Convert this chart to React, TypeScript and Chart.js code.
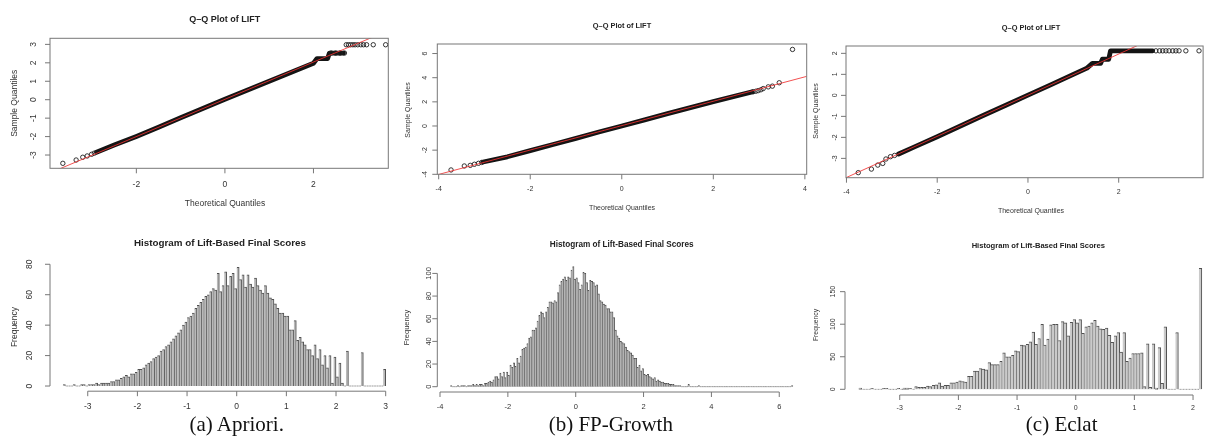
import React, { useEffect, useRef } from "react";
import { Chart, registerables } from "chart.js";
Chart.register(...registerables);

const W = 1208;
const H = 442;

// ---------------- Q-Q plot data ----------------
// (a) Apriori
const qqAxTicks = [-2, 0, 2];
const qqAyTicks = [-3, -2, -1, 0, 1, 2, 3];
const qqABandTheo = [-2.9, -2.5, -2.0, -1.5, -1.0, -0.5, 0, 0.5, 1.0, 1.5, 2.0, 2.08, 2.32, 2.36, 2.68];
const qqABandSample = [-2.85, -2.46, -1.99, -1.49, -0.98, -0.48, 0.02, 0.51, 1.0, 1.49, 1.98, 2.23, 2.23, 2.53, 2.53];
const qqAPointTheo = [-3.66, -3.36, -3.21, -3.11, -3.01, -2.95, 2.4, 2.5, 2.6, 2.7, 2.74, 2.79, 2.84, 2.89, 2.94, 3.0, 3.07, 3.13, 3.2, 3.35, 3.63];
const qqAPointSample = [-3.45, -3.27, -3.12, -3.05, -2.96, -2.9, 2.53, 2.53, 2.53, 2.53, 2.98, 2.98, 2.98, 2.98, 2.98, 2.98, 2.98, 2.98, 2.98, 2.98, 2.98];
const qqALineTheo = [-3.95, 3.69];
const qqALineSample = [-3.97, 3.75];

// (b) FP-Growth
const qqBxTicks = [-4, -2, 0, 2, 4];
const qqByTicks = [-4, -2, 0, 2, 4, 6];
const qqBBandTheo = [-3.03, -2.5, -2.0, -1.5, -1.0, -0.5, 0, 0.5, 1.0, 1.5, 2.0, 2.5, 2.85];
const qqBBandSample = [-2.98, -2.55, -2.04, -1.53, -1.02, -0.5, 0.0, 0.51, 1.02, 1.52, 2.02, 2.5, 2.82];
const qqBPointTheo = [-3.73, -3.44, -3.31, -3.22, -3.13, -3.06, 2.87, 2.93, 2.98, 3.04, 3.09, 3.2, 3.29, 3.44, 3.73];
const qqBPointSample = [-3.64, -3.31, -3.26, -3.17, -3.09, -3.02, 2.84, 2.88, 2.93, 3.0, 3.1, 3.24, 3.3, 3.58, 6.34];
const qqBLineTheo = [-4.03, 4.04];
const qqBLineSample = [-4.04, 4.11];

// (c) Eclat
const qqCxTicks = [-4, -2, 0, 2];
const qqCyTicks = [-3, -2, -1, 0, 1, 2];
const qqCBandTheo = [-2.85, -2.5, -2.0, -1.5, -1.0, -0.5, 0, 0.5, 1.0, 1.3, 1.42, 1.6, 1.64, 1.78, 1.82, 2.75];
const qqCBandSample = [-2.79, -2.45, -1.97, -1.47, -0.97, -0.48, 0.01, 0.5, 1.0, 1.3, 1.52, 1.52, 1.72, 1.72, 2.12, 2.12];
const qqCPointTheo = [-3.74, -3.45, -3.31, -3.2, -3.13, -3.03, -2.94, 2.82, 2.9, 2.97, 3.04, 3.11, 3.19, 3.26, 3.33, 3.48, 3.77];
const qqCPointSample = [-3.68, -3.51, -3.32, -3.24, -3.03, -2.92, -2.86, 2.12, 2.12, 2.12, 2.12, 2.12, 2.12, 2.12, 2.12, 2.12, 2.12];
const qqCLineTheo = [-4.01, 3.86];
const qqCLineSample = [-3.92, 3.79];

// ---------------- Histogram data ----------------
const histBinWidth = 0.05;

const histAStart = -3.5;
const histAxTicks = [-3, -2, -1, 0, 1, 2, 3];
const histAyTicks = [0, 20, 40, 60, 80];
const histACounts = [
  1, 0, 0, 0, 1, 0, 0, 1, 1, 0,
  1, 1, 1, 2, 1, 2, 2, 2, 2, 3,
  3, 4, 4, 5, 6, 7, 6, 8, 8, 9,
  11, 11, 12, 14, 15, 16, 18, 19, 20, 23,
  24, 26, 27, 29, 31, 33, 35, 37, 40, 42,
  45, 46, 48, 51, 53, 55, 57, 59, 60, 62,
  64, 63, 74, 62, 66, 75, 66, 72, 74, 64,
  78, 70, 73, 65, 73, 67, 65, 71, 66, 63,
  61, 66, 61, 58, 57, 54, 51, 48, 48, 46,
  46, 37, 37, 43, 30, 32, 29, 27, 24, 24,
  20, 27, 18, 24, 14, 20, 12, 20, 2, 19,
  6, 15, 2, 0, 23, 0, 0, 0, 0, 0,
  22, 0, 0, 0, 0, 0, 0, 0, 0, 11,
];

const histBStart = -3.7;
const histBxTicks = [-4, -2, 0, 2, 4, 6];
const histByTicks = [0, 20, 40, 60, 80, 100];
const histBCounts = [
  1, 0, 0, 0, 1, 0, 1, 1, 1, 0,
  1, 1, 1, 2, 1, 2, 1, 2, 2, 1,
  3, 3, 4, 5, 4, 6, 9, 9, 7, 12,
  9, 13, 8, 13, 10, 19, 17, 21, 18, 25,
  21, 27, 33, 34, 35, 38, 43, 44, 50, 50,
  52, 58, 63, 66, 65, 61, 66, 70, 75, 75,
  74, 76, 75, 83, 90, 93, 95, 97, 94, 97,
  96, 103, 106, 95, 96, 92, 86, 90, 101, 100,
  92, 85, 94, 93, 92, 89, 90, 82, 76, 75,
  73, 72, 69, 69, 66, 66, 61, 50, 45, 43,
  40, 39, 38, 35, 32, 31, 30, 28, 25, 25,
  17, 19, 14, 16, 11, 10, 11, 9, 8, 7,
  8, 5, 6, 5, 4, 4, 3, 3, 3, 2,
  2, 2, 1, 1, 1, 1, 0, 0, 0, 0,
  2, 0, 0, 0, 0, 0, 1, 0, 0, 0,
  0, 0, 0, 0, 0, 0, 0, 0, 0, 0,
  0, 0, 0, 0, 0, 0, 0, 0, 0, 0,
  0, 0, 0, 0, 0, 0, 0, 0, 0, 0,
  0, 0, 0, 0, 0, 0, 0, 0, 0, 0,
  0, 0, 0, 0, 0, 0, 0, 0, 0, 0,
  0, 1,
];

const histCStart = -3.7;
const histCxTicks = [-3, -2, -1, 0, 1, 2];
const histCyTicks = [0, 50, 100, 150];
const histCCounts = [
  2, 0, 0, 0, 1, 0, 0, 0, 1, 1,
  0, 0, 0, 1, 0, 2, 2, 1, 0, 4,
  3, 3, 3, 5, 4, 6, 7, 10, 5, 6,
  6, 10, 10, 11, 13, 12, 11, 20, 20, 28,
  28, 32, 31, 30, 41, 38, 38, 38, 43, 56,
  50, 50, 52, 59, 58, 68, 67, 69, 73, 88,
  69, 78, 100, 68, 77, 99, 100, 100, 75, 104,
  102, 82, 103, 107, 102, 107, 86, 96, 97, 102,
  106, 97, 93, 92, 94, 83, 72, 82, 87, 57,
  87, 43, 48, 55, 55, 55, 56, 4, 70, 3,
  70, 2, 64, 9, 96, 0, 0, 0, 87, 0,
  0, 0, 0, 0, 0, 0, 186,
];

const captions = ["(a) Apriori.", "(b) FP-Growth", "(c) Eclat"];
const qqTitle = "Q\u2013Q Plot of LIFT";
const qqXLabel = "Theoretical Quantiles";
const qqYLabel = "Sample Quantiles";
const histTitle = "Histogram of Lift-Based Final Scores";
const histYLabel = "Frequency";

// ---------------- styling / layout ----------------
const FONT = '"Liberation Sans", Arial, Helvetica, sans-serif';
const LINE_COLOR = "#777";
const TEXT_COLOR = "#333";
const TITLE_COLOR = "#222";

const rDecor = {
  id: "rDecor",
  afterDraw(chart: any, _args: any, o: any) {
    const { ctx, chartArea: a, scales } = chart;
    const xs = scales.x;
    const ys = scales.y;
    ctx.save();
    ctx.strokeStyle = LINE_COLOR;
    ctx.lineWidth = 1;
    if (o.box) ctx.strokeRect(a.left, a.top, a.right - a.left, a.bottom - a.top);
    const xp = o.xTicks.map((v: number) => xs.getPixelForValue(v));
    const yp = o.yTicks.map((v: number) => ys.getPixelForValue(v));
    ctx.beginPath();
    if (!o.box) {
      ctx.moveTo(xp[0], a.bottom);
      ctx.lineTo(xp[xp.length - 1], a.bottom);
      ctx.moveTo(a.left, yp[0]);
      ctx.lineTo(a.left, yp[yp.length - 1]);
    }
    xp.forEach((p: number) => {
      ctx.moveTo(p, a.bottom);
      ctx.lineTo(p, a.bottom + o.tickLen);
    });
    yp.forEach((p: number) => {
      ctx.moveTo(a.left, p);
      ctx.lineTo(a.left - o.tickLen, p);
    });
    ctx.stroke();

    ctx.fillStyle = TEXT_COLOR;
    ctx.textAlign = "center";
    ctx.textBaseline = "middle";
    ctx.font = `${o.tickSize}px ${FONT}`;
    o.xTicks.forEach((v: number, i: number) => ctx.fillText(String(v), xp[i], o.xLabelY));
    o.yTicks.forEach((v: number, i: number) => {
      ctx.save();
      ctx.translate(o.yLabelX, yp[i]);
      ctx.rotate(-Math.PI / 2);
      ctx.fillText(String(v), 0, 0);
      ctx.restore();
    });
    ctx.font = `${o.labelSize}px ${FONT}`;
    if (o.xTitle) ctx.fillText(o.xTitle, o.xTitleX, o.xTitleY);
    if (o.yTitle) {
      ctx.save();
      ctx.translate(o.yTitleX, o.yTitleY);
      ctx.rotate(-Math.PI / 2);
      ctx.fillText(o.yTitle, 0, 0);
      ctx.restore();
    }
    ctx.fillStyle = TITLE_COLOR;
    ctx.font = `bold ${o.titleSize}px ${FONT}`;
    ctx.fillText(o.title, o.titleX, o.titleY);
    ctx.restore();
  },
};

type Area = { l: number; t: number; r: number; b: number };

const pad = (a: Area) => ({ left: a.l, top: a.t, right: W - a.r, bottom: H - a.b });
const zip = (xs: number[], ys: number[]) => xs.map((x, i) => ({ x, y: ys[i] }));

function qqConfig(p: any) {
  return {
    type: "scatter",
    data: {
      datasets: [
        {
          data: zip(p.lineTheo, p.lineSample),
          showLine: true,
          borderColor: "rgba(240,50,50,0.85)",
          borderWidth: 1,
          pointRadius: 0,
          clip: 0,
        },
        {
          data: zip(p.ptTheo, p.ptSample),
          showLine: false,
          pointRadius: 2.2,
          pointBorderWidth: 0.9,
          pointBackgroundColor: "rgba(0,0,0,0)",
          pointBorderColor: "#1e1e1e",
          clip: 0,
        },
        {
          data: zip(p.bandTheo, p.bandSample),
          showLine: true,
          borderColor: "#141414",
          borderWidth: 4.8,
          borderCapStyle: "round",
          borderJoinStyle: "round",
          pointRadius: 0,
          clip: 0,
        },
      ],
    },
    options: {
      responsive: false,
      animation: false,
      events: [],
      layout: { padding: pad(p.area) },
      scales: {
        x: { type: "linear", display: false, min: p.xMin, max: p.xMax },
        y: { type: "linear", display: false, min: p.yMin, max: p.yMax },
      },
      plugins: {
        legend: { display: false },
        tooltip: { enabled: false },
        rDecor: { box: true, tickLen: 5, title: qqTitle, xTitle: qqXLabel, yTitle: qqYLabel, ...p.deco },
      },
    },
    plugins: [rDecor],
  };
}

function histConfig(p: any) {
  return {
    type: "bar",
    data: {
      datasets: [
        {
          data: p.counts.map((c: number, i: number) => ({ x: p.start + histBinWidth * (i + 0.5), y: c })),
          backgroundColor: p.fill,
          borderColor: p.border,
          borderWidth: { top: 1, right: 1, bottom: 0, left: 0 },
          barPercentage: 1,
          categoryPercentage: 1,
          minBarLength: 1,
          clip: 0,
        },
      ],
    },
    options: {
      responsive: false,
      animation: false,
      events: [],
      layout: { padding: pad(p.area) },
      scales: {
        x: { type: "linear", display: false, min: p.xMin, max: p.xMax, offset: false },
        y: { type: "linear", display: false, min: p.yMin, max: p.yMax },
      },
      plugins: {
        legend: { display: false },
        tooltip: { enabled: false },
        rDecor: { box: false, tickLen: 5, title: histTitle, yTitle: histYLabel, ...p.deco },
      },
    },
    plugins: [rDecor],
  };
}

const makers = [
  () =>
    qqConfig({
      area: { l: 50, t: 38.3, r: 388.3, b: 168.3 },
      xMin: -3.95, xMax: 3.69, yMin: -3.72, yMax: 3.33,
      bandTheo: qqABandTheo, bandSample: qqABandSample,
      ptTheo: qqAPointTheo, ptSample: qqAPointSample,
      lineTheo: qqALineTheo, lineSample: qqALineSample,
      deco: {
        xTicks: qqAxTicks, yTicks: qqAyTicks,
        titleX: 224.7, titleY: 19.3, titleSize: 9,
        xLabelY: 185, yLabelX: 34, tickSize: 8.5, labelSize: 8.5,
        xTitleX: 225, xTitleY: 204, yTitleX: 15, yTitleY: 103.3,
      },
    }),
  () =>
    qqConfig({
      area: { l: 437.3, t: 44, r: 806.7, b: 174.3 },
      xMin: -4.03, xMax: 4.04, yMin: -4.0, yMax: 6.79,
      bandTheo: qqBBandTheo, bandSample: qqBBandSample,
      ptTheo: qqBPointTheo, ptSample: qqBPointSample,
      lineTheo: qqBLineTheo, lineSample: qqBLineSample,
      deco: {
        xTicks: qqBxTicks, yTicks: qqByTicks,
        titleX: 622, titleY: 26, titleSize: 7.4,
        xLabelY: 189.3, yLabelX: 425, tickSize: 7, labelSize: 7,
        xTitleX: 622, xTitleY: 208.3, yTitleX: 408.3, yTitleY: 110,
      },
    }),
  () =>
    qqConfig({
      area: { l: 846, t: 46, r: 1206.5, b: 177.7 },
      xMin: -4.01, xMax: 3.86, yMin: -3.92, yMax: 2.35,
      bandTheo: qqCBandTheo, bandSample: qqCBandSample,
      ptTheo: qqCPointTheo, ptSample: qqCPointSample,
      lineTheo: qqCLineTheo, lineSample: qqCLineSample,
      deco: {
        xTicks: qqCxTicks, yTicks: qqCyTicks,
        titleX: 1031, titleY: 28.3, titleSize: 7.4,
        xLabelY: 192.3, yLabelX: 835, tickSize: 7, labelSize: 7,
        xTitleX: 1031, xTitleY: 210.7, yTitleX: 816, yTitleY: 111,
      },
    }),
  () =>
    histConfig({
      area: { l: 50, t: 262.6, r: 398.6, b: 391.2 },
      xMin: -3.76, xMax: 3.26, yMin: -3.4, yMax: 81.1,
      counts: histACounts, start: histAStart, fill: "#b9b9b9", border: "#505050",
      deco: {
        xTicks: histAxTicks, yTicks: histAyTicks,
        titleX: 220, titleY: 243.3, titleSize: 9.8,
        xLabelY: 406.7, yLabelX: 29.3, tickSize: 8.5, labelSize: 8.5,
        yTitleX: 15, yTitleY: 327,
      },
    }),
  () =>
    histConfig({
      area: { l: 437.3, t: 263, r: 806.4, b: 392 },
      xMin: -4.08, xMax: 6.8, yMin: -4.68, yMax: 109.2,
      counts: histBCounts, start: histBStart, fill: "#b4b4b4", border: "#555",
      deco: {
        xTicks: histBxTicks, yTicks: histByTicks,
        titleX: 621.7, titleY: 245, titleSize: 8.2,
        xLabelY: 406.7, yLabelX: 429.3, tickSize: 7.5, labelSize: 7.5,
        yTitleX: 407.3, yTitleY: 327.5,
      },
    }),
  () =>
    histConfig({
      area: { l: 845, t: 264.2, r: 1208, b: 395 },
      xMin: -3.933, xMax: 2.255, yMin: -8.76, yMax: 192.2,
      counts: histCCounts, start: histCStart, fill: "#cacaca", border: "#505050",
      deco: {
        xTicks: histCxTicks, yTicks: histCyTicks,
        titleX: 1038.3, titleY: 245.7, titleSize: 7.6,
        xLabelY: 408.3, yLabelX: 833.3, tickSize: 7, labelSize: 6.8,
        yTitleX: 816, yTitleY: 325,
      },
    }),
];

const captionCenters = [236.7, 610.8, 1061.7];

function ChartLayer({ make }: { make: () => any }) {
  const ref = useRef<HTMLCanvasElement | null>(null);
  useEffect(() => {
    if (!ref.current) return;
    const chart = new Chart(ref.current, make() as any);
    return () => chart.destroy();
  }, [make]);
  return (
    <canvas
      ref={ref}
      width={W}
      height={H}
      style={{ position: "absolute", left: 0, top: 0, width: W, height: H }}
    />
  );
}

export default function App() {
  return (
    <div
      style={{
        position: "fixed",
        left: 0,
        top: 0,
        width: W,
        height: H,
        background: "#fff",
        overflow: "hidden",
      }}
    >
      {makers.map((m, i) => (
        <ChartLayer key={i} make={m} />
      ))}
      {captions.map((c, i) => (
        <div
          key={c}
          style={{
            position: "absolute",
            left: captionCenters[i] - 150,
            width: 300,
            top: 414,
            textAlign: "center",
            fontFamily: '"Liberation Serif", "Times New Roman", serif',
            fontSize: 21,
            lineHeight: "21px",
            color: "#111",
            whiteSpace: "nowrap",
          }}
        >
          {c}
        </div>
      ))}
    </div>
  );
}
